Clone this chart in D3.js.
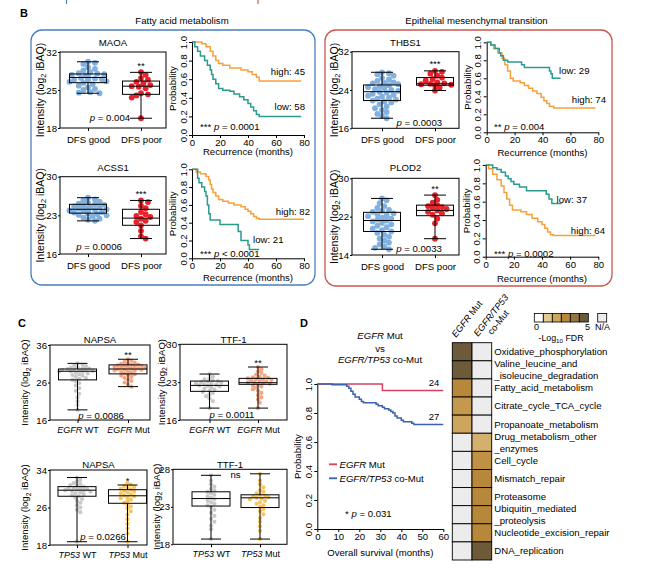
<!DOCTYPE html>
<html>
<head>
<meta charset="utf-8">
<script src="https://cdn.jsdelivr.net/npm/d3@7"></script>
<style>
  body { margin: 0; background: #fff; }
  svg text { font-family: "Liberation Sans", Arial, Helvetica, sans-serif; fill: #000; }
</style>
</head>
<body>
<svg id="fig" width="645" height="579"></svg>
<script>
// ---------- data ----------
var dfsLabels = ['DFS good', 'DFS poor'];
var egfrLabels = ['~EGFR~ WT', '~EGFR~ Mut'];
var tp53Labels = ['~TP53~ WT', '~TP53~ Mut'];

// box stats: [min, q1, median, q3, max]
var maoaStats  = [[24.4, 26.35, 27.3, 27.95, 30.2], [19.8, 24.2, 25.7, 26.65, 28.25]];
var acss1Stats = [[22.0, 23.4, 24.1, 25.0, 26.2], [18.8, 21.2, 22.5, 24.1, 25.7]];
var thbs1Stats = [[18.1, 21.8, 23.65, 25.05, 27.7], [23.9, 25.0, 25.3, 26.6, 28.0]];
var plod2Stats = [[15.2, 18.9, 21.2, 22.9, 25.8], [17.4, 22.2, 23.3, 24.4, 26.5]];
var napsaEgfrStats = [[18.7, 26.7, 29.0, 29.6, 31.1], [24.9, 28.3, 29.6, 30.7, 32.2]];
var ttf1EgfrStats  = [[18.2, 21.3, 22.4, 23.2, 24.5], [18.2, 22.6, 22.9, 23.7, 25.8]];
var napsaTp53Stats = [[18.7, 28.4, 29.7, 30.45, 32.4], [18.7, 26.9, 28.5, 29.8, 30.8]];
var ttf1Tp53Stats  = [[18.7, 23.1, 24.1, 25.0, 27.2], [18.7, 22.9, 24.2, 24.6, 27.4]];

var maoaGood = [30.2, 30.0, 29.8, 29.2, 28.9, 28.6, 28.3, 28.1, 28.0, 27.9, 27.8, 27.7, 27.6, 27.5, 27.4, 27.3, 27.2, 27.1, 27.0, 26.9, 26.8, 26.6, 26.5, 26.3, 26.1, 25.8, 25.5, 25.2, 25.0, 24.6, 24.4, 24.5];
var maoaPoor = [28.3, 27.8, 27.2, 26.9, 26.5, 26.2, 25.9, 25.7, 25.6, 25.3, 24.4, 24.2, 24.0, 23.6, 19.8];
var acss1Good = [26.2, 25.9, 25.7, 25.5, 25.3, 25.1, 25.0, 24.9, 24.7, 24.6, 24.5, 24.4, 24.3, 24.2, 24.1, 24.0, 23.9, 23.8, 23.7, 23.6, 23.5, 23.4, 23.3, 23.2, 23.1, 23.0, 22.8, 22.6, 22.4, 22.2, 22.0];
var acss1Poor = [25.7, 25.4, 24.7, 24.3, 23.6, 23.2, 22.9, 22.7, 22.4, 22.0, 21.8, 21.2, 20.2, 19.2, 18.8];
var thbs1Good = [27.7, 27.5, 27.3, 27.0, 26.5, 26.2, 25.9, 25.6, 25.5, 25.4, 25.2, 25.0, 24.8, 24.6, 24.4, 24.2, 24.0, 23.8, 23.6, 23.4, 23.2, 23.0, 22.8, 22.6, 22.4, 22.2, 22.0, 21.8, 21.6, 21.4, 21.0, 20.6, 20.2, 19.8, 19.4, 19.0, 18.6, 18.1];
var thbs1Poor = [28.0, 27.8, 27.4, 27.0, 26.6, 26.3, 26.0, 25.6, 25.4, 25.3, 25.2, 25.1, 25.0, 24.5, 23.9];
var plod2Good = [25.8, 25.4, 24.8, 24.2, 23.8, 23.4, 23.2, 23.0, 22.7, 22.5, 22.3, 22.1, 21.8, 21.6, 21.4, 21.2, 21.0, 20.7, 20.4, 20.1, 19.8, 19.5, 19.2, 18.9, 18.6, 18.2, 17.8, 17.4, 17.0, 16.6, 16.2, 15.8, 15.5, 15.2];
var plod2Poor = [26.5, 25.5, 24.9, 24.4, 24.2, 24.0, 23.8, 23.6, 23.3, 23.0, 22.7, 22.4, 21.6, 20.6, 17.4];

var napsaEgfrWt  = [31.1, 30.8, 30.5, 30.3, 30.1, 30.0, 29.8, 29.7, 29.6, 29.5, 29.4, 29.3, 29.2, 29.1, 29.0, 28.9, 28.8, 28.6, 28.4, 28.2, 28.0, 27.8, 27.5, 27.2, 27.0, 26.7, 26.3, 25.8, 25.2, 24.5, 23.8, 23.0, 22.0, 21.0, 20.0, 18.7];
var napsaEgfrMut = [32.2, 31.8, 31.5, 31.3, 31.1, 31.0, 30.8, 30.7, 30.6, 30.5, 30.4, 30.3, 30.2, 30.1, 30.0, 29.9, 29.8, 29.7, 29.6, 29.5, 29.4, 29.3, 29.2, 29.0, 28.8, 28.6, 28.4, 28.2, 28.0, 27.8, 27.5, 27.2, 26.8, 26.4, 26.0, 25.5, 24.9];
var ttf1EgfrWt  = [24.5, 24.0, 23.7, 23.5, 23.3, 23.2, 23.1, 23.0, 22.9, 22.8, 22.7, 22.6, 22.5, 22.4, 22.3, 22.2, 22.0, 21.8, 21.6, 21.4, 21.2, 21.0, 20.7, 20.4, 20.0, 19.5, 18.2];
var ttf1EgfrMut = [25.8, 25.4, 25.0, 24.7, 24.4, 24.2, 24.0, 23.9, 23.8, 23.7, 23.6, 23.5, 23.4, 23.3, 23.2, 23.1, 23.0, 22.9, 22.8, 22.7, 22.6, 22.4, 22.2, 22.0, 21.7, 21.4, 21.0, 20.6, 20.2, 19.8, 19.2, 18.2];
var napsaTp53Wt  = [32.4, 31.9, 31.5, 31.2, 31.0, 30.8, 30.6, 30.4, 30.2, 30.1, 30.0, 29.9, 29.8, 29.7, 29.6, 29.5, 29.4, 29.2, 29.0, 28.8, 28.6, 28.4, 28.1, 27.8, 27.4, 27.0, 26.5, 26.0, 25.5, 25.0, 18.7];
var napsaTp53Mut = [31.2, 30.9, 30.6, 30.4, 30.2, 30.0, 29.8, 29.6, 29.4, 29.2, 29.0, 28.8, 28.6, 28.4, 28.2, 28.0, 27.7, 27.4, 27.0, 26.6, 26.2, 25.8, 25.2, 24.5, 23.5, 22.5, 21.5, 20.5, 18.7];
var ttf1Tp53Wt  = [27.2, 26.5, 26.0, 25.7, 25.4, 25.2, 25.0, 24.8, 24.6, 24.4, 24.2, 24.0, 23.8, 23.6, 23.4, 23.2, 23.0, 22.6, 22.2, 21.8, 21.4, 21.0, 20.5, 20.0, 18.7];
var ttf1Tp53Mut = [27.4, 26.5, 26.0, 25.6, 25.2, 25.0, 24.8, 24.6, 24.5, 24.4, 24.3, 24.2, 24.1, 24.0, 23.8, 23.6, 23.4, 23.2, 23.0, 22.7, 22.4, 22.0, 21.5, 21.0, 20.4, 19.8, 18.7];

// Kaplan-Meier steps: [months, probability]
var maoaHigh = [[0,1],[7,0.98],[10,0.95],[13,0.9],[15,0.85],[17,0.8],[19,0.77],[22,0.75],[27,0.72],[35,0.7],[40,0.68],[43,0.65],[46,0.62],[48,0.58],[78,0.58]];
var maoaLow  = [[0,1],[2,0.95],[4,0.9],[6,0.85],[9,0.8],[11,0.75],[13,0.7],[14,0.65],[15,0.6],[17,0.55],[19,0.5],[22,0.48],[27,0.47],[30,0.44],[34,0.41],[37,0.38],[40,0.34],[42,0.3],[44,0.26],[46,0.22],[48,0.2],[78,0.2]];
var acss1High = [[0,1],[3,0.97],[6,0.95],[10,0.92],[12,0.88],[13,0.83],[14,0.78],[15,0.74],[17,0.7],[19,0.66],[22,0.64],[26,0.62],[30,0.6],[35,0.58],[38,0.55],[40,0.53],[42,0.5],[44,0.47],[46,0.45],[48,0.44],[80,0.44]];
var acss1Low  = [[0,1],[4,0.9],[5,0.85],[7,0.8],[9,0.75],[10,0.7],[11,0.6],[12,0.5],[13,0.43],[20,0.38],[33,0.3],[35,0.2],[40,0.15],[41,0.1],[48,0.1]];
var thbs1Low  = [[0,1],[3,0.97],[6,0.93],[9,0.88],[10,0.85],[12,0.8],[15,0.78],[25,0.75],[27,0.72],[45,0.68],[46,0.65],[47,0.6],[53,0.6]];
var thbs1High = [[0,1],[3,0.97],[5,0.93],[8,0.88],[11,0.82],[13,0.75],[15,0.68],[17,0.6],[19,0.57],[24,0.55],[27,0.52],[30,0.49],[33,0.46],[36,0.43],[39,0.39],[41,0.35],[43,0.32],[45,0.29],[48,0.27],[78,0.27]];
var plod2Low  = [[0,1],[5,0.97],[8,0.95],[11,0.92],[14,0.88],[16,0.85],[18,0.82],[20,0.79],[24,0.76],[29,0.72],[43,0.68],[45,0.63],[47,0.58],[54,0.58]];
var plod2High = [[0,1],[2,0.96],[5,0.9],[8,0.84],[11,0.77],[13,0.7],[15,0.63],[17,0.56],[19,0.51],[25,0.49],[29,0.46],[33,0.42],[37,0.38],[40,0.35],[42,0.31],[44,0.27],[46,0.24],[48,0.23],[78,0.23]];
var egfrMutOS = [[0,1],[31,0.955],[60,0.955]];
var coMutOS   = [[0,1],[7,0.995],[14,0.985],[15,0.97],[16,0.95],[17,0.93],[18,0.91],[20,0.895],[21,0.88],[22,0.87],[28,0.86],[29,0.85],[31,0.84],[32,0.83],[34,0.82],[35,0.81],[36,0.8],[37,0.78],[38,0.765],[40,0.75],[41,0.74],[45,0.73],[46,0.72],[60,0.72]];
var probTicks = [0, 0.2, 0.4, 0.6, 0.8, 1.0];
var recTicks = [0, 20, 40, 60, 80];
var osTicks = [0, 10, 20, 30, 40, 50, 60];

// heatmap (-log10 FDR, null = N/A)
var hmCols = ['~EGFR~ Mut', '~EGFR/TP53~|co-Mut'];
var hmRows = ['Oxidative_phosphorylation', 'Valine_leucine_and\n_isoleucine_degradation', 'Fatty_acid_metabolism',
  'Citrate_cycle_TCA_cycle', 'Propanoate_metabolism', 'Drug_metabolism_other\n_enzymes', 'Cell_cycle', 'Mismatch_repair',
  'Proteasome', 'Ubiquitin_mediated\n_proteolysis', 'Nucleotide_excision_repair', 'DNA_replication'];
var hmEgfr = [5, 5, 3, 2.4, 2.0, null, null, null, null, null, null, null];
var hmCo   = [null, null, null, null, null, 1.7, 2.7, 3, 3, 3, 3, 5];
var fdrSteps = [0, 1, 2, 3, 4, 5];

// ---------- helpers ----------
var BLUE = '#82b1e0', RED = '#e8232b', GREY = '#c9c9c9', SALMON = '#f4a583', GOLD = '#f7c660';
var ORANGE = '#f7a13a', TEAL = '#2b9b8d';
var svg = d3.select('#fig');

function rich(t, s) {
  s.split('~').forEach(function (part, i) {
    if (part) t.append('tspan').attr('font-style', i % 2 ? 'italic' : null).text(part);
  });
  return t;
}

function label(g, x, y, s, anchor, size, weight) {
  var t = g.append('text').attr('x', x).attr('y', y).attr('dy', '0.35em')
    .attr('text-anchor', anchor || 'middle').attr('font-size', size || 9.6)
    .attr('font-weight', weight || null);
  return rich(t, s);
}

function styleAxis(a, size) {
  a.attr('font-family', null).attr('font-size', size || 9.6);
  a.selectAll('line').attr('stroke', '#000');
  a.selectAll('path').attr('stroke', '#000');
}

function swarm(vals, cx, y, r, spread) {
  var out = [];
  vals.map(function (v) { return y(v); }).sort(function (a, b) { return a - b; }).forEach(function (py) {
    var px = cx;
    for (var k = 0; k < 40; k++) {
      var off = (k % 2 ? 1 : -1) * Math.ceil(k / 2) * r * 0.8;
      if (Math.abs(off) > spread) break;
      var c = cx + off;
      var ok = out.every(function (q) { return (q.x - c) * (q.x - c) + (q.y - py) * (q.y - py) >= 2.9 * r * r; });
      if (ok) { px = c; break; }
    }
    out.push({ x: px, y: py });
  });
  return out;
}

function intensityLabel(g, x, cy, size) {
  var t = g.append('text').attr('transform', 'translate(' + x + ',' + cy + ') rotate(-90)')
    .attr('text-anchor', 'middle').attr('dy', '0.35em').attr('font-size', size);
  t.append('tspan').text('Intensity (log');
  t.append('tspan').attr('font-size', size * 0.7).attr('dy', size * 0.25).text('2');
  t.append('tspan').attr('dy', -size * 0.25).text(' iBAQ)');
}

function boxPanel(p) {
  var g = svg.append('g');
  var y = d3.scaleLinear().domain(p.domain).range([p.y1, p.y0]);
  var x = d3.scalePoint().domain(p.labels).range(p.centers);

  p.pts.forEach(function (vals, i) {
    var pos = swarm(vals, x(p.labels[i]), y, p.r, p.spread);
    g.append('g').selectAll('circle').data(pos).join('circle')
      .attr('cx', function (d) { return d.x; }).attr('cy', function (d) { return d.y; })
      .attr('r', p.r).attr('fill', p.colors[i]);
  });

  p.stats.forEach(function (s, i) {
    var cx = x(p.labels[i]), bg = g.append('g').attr('stroke', '#000').attr('stroke-width', 1).attr('fill', 'none');
    bg.append('rect').attr('x', cx - p.bw / 2).attr('width', p.bw)
      .attr('y', y(s[3])).attr('height', y(s[1]) - y(s[3]));
    bg.append('line').attr('x1', cx - p.bw / 2).attr('x2', cx + p.bw / 2).attr('y1', y(s[2])).attr('y2', y(s[2]));
    bg.append('line').attr('x1', cx).attr('x2', cx).attr('y1', y(s[4])).attr('y2', y(s[3]));
    bg.append('line').attr('x1', cx).attr('x2', cx).attr('y1', y(s[1])).attr('y2', y(s[0]));
    [s[0], s[4]].forEach(function (v) {
      bg.append('line').attr('x1', cx - p.cw / 2).attr('x2', cx + p.cw / 2).attr('y1', y(v)).attr('y2', y(v));
    });
  });

  g.append('rect').attr('x', p.x0).attr('y', p.y0).attr('width', p.x1 - p.x0).attr('height', p.y1 - p.y0)
    .attr('fill', 'none').attr('stroke', '#000').attr('stroke-width', 1);

  var ya = g.append('g').attr('transform', 'translate(' + p.x0 + ',0)')
    .call(d3.axisLeft(y).tickValues(p.ticks).tickSize(2).tickPadding(1).tickSizeOuter(0));
  var xa = g.append('g').attr('transform', 'translate(0,' + p.y1 + ')')
    .call(d3.axisBottom(x).tickSize(3).tickPadding(p.xpad).tickSizeOuter(0));
  xa.selectAll('.tick text').each(function (d) { var t = d3.select(this).text(null); rich(t, d); });
  styleAxis(ya); styleAxis(xa, p.xFont);
  ya.select('.domain').remove(); xa.select('.domain').remove();

  label(g, (p.x0 + p.x1) / 2, p.ty, p.title);
  intensityLabel(g, p.ylab, (p.y0 + p.y1) / 2, p.labSize);
  if (p.sig) {
    var sx = p.sig.g == null ? (p.centers[0] + p.centers[1]) / 2 : x(p.labels[p.sig.g]);
    var sy = p.sig.g == null ? p.sig.y : y(p.stats[p.sig.g][4]) - p.sig.gap;
    g.append('text').attr('x', sx).attr('y', sy).attr('text-anchor', 'middle').attr('font-size', 9.6)
      .attr('dy', p.sig.g == null ? '0.35em' : null).text(p.sig.text);
  }
  if (p.p) label(g, p.p.x, p.p.y, p.p.text);
}

function kmPanel(p) {
  var g = svg.append('g');
  var x = d3.scaleLinear().domain([0, p.xmax]).range([p.x0, p.x1]);
  var y = d3.scaleLinear().domain([0, 1]).range([p.yb, p.yt]);
  var line = d3.line().x(function (d) { return x(d[0]); }).y(function (d) { return y(d[1]); }).curve(d3.curveStepAfter);
  p.series.forEach(function (s) {
    g.append('path').attr('d', line(s.d)).attr('fill', 'none').attr('stroke', s.c).attr('stroke-width', 1.5);
  });
  var xa = g.append('g').attr('transform', 'translate(0,' + p.yb + ')')
    .call(d3.axisBottom(x).tickValues(p.xticks).tickSize(3).tickPadding(1).tickSizeOuter(0));
  var ya = g.append('g').attr('transform', 'translate(' + p.x0 + ',0)')
    .call(d3.axisLeft(y).tickValues(probTicks).tickFormat(d3.format('.1f')).tickSize(3).tickSizeOuter(0));
  ya.selectAll('.tick text').attr('x', null).attr('dy', null).attr('text-anchor', 'middle')
    .attr('transform', 'translate(-5.5,0) rotate(-90)');
  styleAxis(xa); styleAxis(ya);

  g.append('text').attr('transform', 'translate(' + (p.x0 - 16) + ',' + ((p.yt + p.yb) / 2) + ') rotate(-90)')
    .attr('text-anchor', 'middle').attr('font-size', 9.6).text('Probability');
  label(g, (p.x0 + p.x1) / 2, p.labY, p.xlab);
  p.notes.forEach(function (n) { label(g, n.x, n.y, n.t, n.a); });
  return g;
}

// ---------- panel B ----------
svg.append('line').attr('x1', 66.5).attr('x2', 66.5).attr('y1', 0).attr('y2', 4).attr('stroke', '#4a7fbd').attr('stroke-width', 1.2);
svg.append('line').attr('x1', 258).attr('x2', 258).attr('y1', 0).attr('y2', 4).attr('stroke', '#c9584c').attr('stroke-width', 1.2);
label(svg, 24, 13.5, 'B', 'middle', 11, 'bold');
label(svg, 182, 21, 'Fatty acid metabolism');
label(svg, 476.5, 21, 'Epithelial mesenchymal transition');
svg.append('rect').attr('x', 31).attr('y', 30).attr('width', 284).attr('height', 255).attr('rx', 11)
  .attr('fill', 'none').attr('stroke', '#4a7fbd').attr('stroke-width', 1.3);
svg.append('rect').attr('x', 325).attr('y', 30).attr('width', 287).attr('height', 256).attr('rx', 11)
  .attr('fill', 'none').attr('stroke', '#c9584c').attr('stroke-width', 1.3);

var bBase = { labels: dfsLabels, colors: [BLUE, RED], r: 2.9, spread: 20, bw: 37, cw: 22, xpad: 5, labSize: 10.5, xFont: 9.6 };
[
  { title: 'MAOA', ty: 43, x0: 60, x1: 166, y0: 52, y1: 128, domain: [18, 32], ticks: [18, 25, 32], centers: [88, 141],
    stats: maoaStats, pts: [maoaGood, maoaPoor], ylab: 40, sig: { text: '**', g: 1, gap: 3.5 }, p: { text: '~p~ = 0.004', x: 110, y: 118 } },
  { title: 'ACSS1', ty: 168, x0: 60, x1: 166, y0: 176.7, y1: 254, domain: [16, 30], ticks: [16, 23, 30], centers: [88, 141],
    stats: acss1Stats, pts: [acss1Good, acss1Poor], ylab: 40, sig: { text: '***', g: 1, gap: 3.5 }, p: { text: '~p~ = 0.0006', x: 99, y: 246.7 } },
  { title: 'THBS1', ty: 43, x0: 352, x1: 459, y0: 51.7, y1: 128.3, domain: [16, 32], ticks: [16, 24, 32], centers: [382, 435],
    stats: thbs1Stats, pts: [thbs1Good, thbs1Poor], ylab: 334, sig: { text: '***', g: 1, gap: 3.5 }, p: { text: '~p~ = 0.0003', x: 419.3, y: 122.7 } },
  { title: 'PLOD2', ty: 168, x0: 352, x1: 459, y0: 178.3, y1: 255, domain: [14, 30], ticks: [14, 22, 30], centers: [382, 435],
    stats: plod2Stats, pts: [plod2Good, plod2Poor], ylab: 334, sig: { text: '**', g: 1, gap: 3.5 }, p: { text: '~p~ = 0.0033', x: 419, y: 248.3 } }
].forEach(function (p) { boxPanel(Object.assign({}, bBase, p)); });

[
  { x0: 192, x1: 304, yt: 42, yb: 135, labY: 152, series: [{ d: maoaHigh, c: ORANGE }, { d: maoaLow, c: TEAL }],
    notes: [{ t: 'high: 45', x: 305, y: 71.7, a: 'end' }, { t: 'low: 58', x: 305, y: 106.7, a: 'end' }, { t: '*** ~p~ = 0.0001', x: 200, y: 126.7, a: 'start' }] },
  { x0: 192, x1: 304, yt: 169.3, yb: 258.3, labY: 277.7, series: [{ d: acss1High, c: ORANGE }, { d: acss1Low, c: TEAL }],
    notes: [{ t: 'high: 82', x: 310, y: 211.7, a: 'end' }, { t: 'low: 21', x: 283.5, y: 240, a: 'end' }, { t: '*** ~p~ < 0.0001', x: 200, y: 253.3, a: 'start' }] },
  { x0: 486.7, x1: 598.3, yt: 42.3, yb: 132.3, labY: 152.7, series: [{ d: thbs1High, c: ORANGE }, { d: thbs1Low, c: TEAL }],
    notes: [{ t: 'low: 29', x: 589.5, y: 70.3, a: 'end' }, { t: 'high: 74', x: 606, y: 100, a: 'end' }, { t: '** ~p~ = 0.004', x: 494, y: 126.7, a: 'start' }] },
  { x0: 485.7, x1: 598.3, yt: 165, yb: 256.7, labY: 278.3, series: [{ d: plod2High, c: ORANGE }, { d: plod2Low, c: TEAL }],
    notes: [{ t: 'low: 37', x: 587, y: 200, a: 'end' }, { t: 'high: 64', x: 605, y: 231, a: 'end' }, { t: '*** ~p~ = 0.0002', x: 494, y: 253.3, a: 'start' }] }
].forEach(function (p) { kmPanel(Object.assign({ xmax: 80, xticks: recTicks, xlab: 'Recurrence (months)' }, p)); });

// ---------- panel C ----------
label(svg, 22, 323.3, 'C', 'middle', 11, 'bold');
var cBase = { r: 2.1, spread: 19, bw: 38, cw: 20, xpad: 3.5, labSize: 9.6, xFont: 9 };
[
  { title: 'NAPSA', ty: 340, x0: 50, x1: 150, y0: 345, y1: 420, domain: [16, 36], ticks: [16, 26, 36], centers: [77.5, 128],
    labels: egfrLabels, colors: [GREY, SALMON], stats: napsaEgfrStats, pts: [napsaEgfrWt, napsaEgfrMut], ylab: 25,
    sig: { text: '**', g: 1, gap: 1 }, p: { text: '~p~ = 0.0086', x: 101, y: 416 } },
  { title: 'TTF-1', ty: 340, x0: 180, x1: 287, y0: 344.3, y1: 420, domain: [16, 30], ticks: [16, 23, 30], centers: [209.5, 258],
    labels: egfrLabels, colors: [GREY, SALMON], stats: ttf1EgfrStats, pts: [ttf1EgfrWt, ttf1EgfrMut], ylab: 161.7,
    sig: { text: '**', g: 1, gap: 1.5 }, p: { text: '~p~ = 0.0011', x: 232, y: 414.3 } },
  { title: 'NAPSA', ty: 464.3, x0: 50, x1: 147, y0: 470, y1: 545, domain: [18, 34], ticks: [18, 26, 34], centers: [77, 127.5],
    labels: tp53Labels, colors: [GREY, GOLD], stats: napsaTp53Stats, pts: [napsaTp53Wt, napsaTp53Mut], ylab: 25,
    sig: { text: '*', g: 1, gap: 1 }, p: { text: '~p~ = 0.0266', x: 103, y: 536.7 } },
  { title: 'TTF-1', ty: 464.3, x0: 173, x1: 287, y0: 469.3, y1: 544.3, domain: [18, 28], ticks: [18, 23, 28], centers: [211, 260],
    labels: tp53Labels, colors: [GREY, GOLD], stats: ttf1Tp53Stats, pts: [ttf1Tp53Wt, ttf1Tp53Mut], ylab: 156.7,
    sig: { text: 'ns', g: null, y: 474.3 } }
].forEach(function (p) { boxPanel(Object.assign({}, cBase, p)); });

// ---------- panel D ----------
label(svg, 304, 323.3, 'D', 'middle', 11, 'bold');
label(svg, 380, 336, '~EGFR~ Mut');
label(svg, 380, 348.3, 'vs');
label(svg, 380, 359.3, '~EGFR/TP53~ co-Mut');
var RED_D = '#d8415f', BLUE_D = '#3c60ad';
var dG = kmPanel({ x0: 317.3, x1: 443.3, yt: 384, yb: 529, labY: 552.7, xmax: 60, xticks: osTicks, xlab: 'Overall survival (months)',
  series: [{ d: egfrMutOS, c: RED_D }, { d: coMutOS, c: BLUE_D }],
  notes: [{ t: '24', x: 434, y: 382.7, a: 'middle' }, { t: '27', x: 434, y: 416.7, a: 'middle' }, { t: '* ~p~ = 0.031', x: 345, y: 513.3, a: 'start' }] });
[{ t: '~EGFR~ Mut', c: RED_D, y: 464.3 }, { t: '~EGFR/TP53~ co-Mut', c: BLUE_D, y: 478.3 }].forEach(function (l) {
  dG.append('line').attr('x1', 329).attr('x2', 337).attr('y1', l.y).attr('y2', l.y).attr('stroke', l.c).attr('stroke-width', 1.8);
  label(dG, 339.5, l.y, l.t, 'start');
});

// heatmap
var hmColor = d3.scaleLinear().domain(fdrSteps).range(['#ffffff', '#e0cb96', '#cda55c', '#b7883a', '#947642', '#6c5a39']);
var NA = '#ececec';
var hx = d3.scaleBand().domain(hmCols).range([452.3, 491.7]);
var hy = d3.scaleBand().domain(hmRows).range([342.7, 560]);
var hm = svg.append('g');
[hmEgfr, hmCo].forEach(function (col, ci) {
  hm.append('g').selectAll('rect').data(col).join('rect')
    .attr('x', hx(hmCols[ci])).attr('width', hx.bandwidth())
    .attr('y', function (d, i) { return hy(hmRows[i]); }).attr('height', hy.bandwidth())
    .attr('fill', function (d) { return d == null ? NA : hmColor(d); })
    .attr('stroke', '#000').attr('stroke-width', 0.9);
});
hmRows.forEach(function (r) {
  var lines = r.split('\n'), cy = hy(r) + hy.bandwidth() / 2;
  lines.forEach(function (s, i) {
    label(hm, 494.3, cy + (i - (lines.length - 1) / 2) * 11.7, s, 'start');
  });
});
hmCols.forEach(function (c, i) {
  var parts = c.split('|');
  var pos = i === 0 ? [456, 338] : [478, 337];
  var t = hm.append('text').attr('transform', 'translate(' + pos[0] + ',' + pos[1] + ') rotate(-52)').attr('font-size', 9.2);
  rich(t, parts[0]);
  if (parts[1]) t.append('tspan').attr('x', 10).attr('dy', '1.1em').text(parts[1]);
});

// legend
var lg = svg.append('g');
lg.selectAll('rect.sw').data(fdrSteps).join('rect').attr('class', 'sw')
  .attr('x', function (d, i) { return 534.3 + i * 9; }).attr('y', 313.5).attr('width', 9).attr('height', 8.5)
  .attr('fill', function (d) { return hmColor(d); }).attr('stroke', '#000').attr('stroke-width', 0.8);
lg.append('rect').attr('x', 597.7).attr('y', 313.5).attr('width', 9).attr('height', 8.5)
  .attr('fill', NA).attr('stroke', '#000').attr('stroke-width', 0.8);
label(lg, 536.5, 327.3, String(fdrSteps[0]), 'middle', 9);
label(lg, 587.5, 327.3, String(fdrSteps[fdrSteps.length - 1]), 'middle', 9);
label(lg, 602.5, 327.3, 'N/A', 'middle', 9);
var lt = lg.append('text').attr('x', 561).attr('y', 337.5).attr('dy', '0.35em').attr('text-anchor', 'middle').attr('font-size', 8.8);
lt.append('tspan').text('-Log');
lt.append('tspan').attr('font-size', 6.2).attr('dy', 2).text('10');
lt.append('tspan').attr('dy', -2).text(' FDR');
</script>
</body>
</html>
